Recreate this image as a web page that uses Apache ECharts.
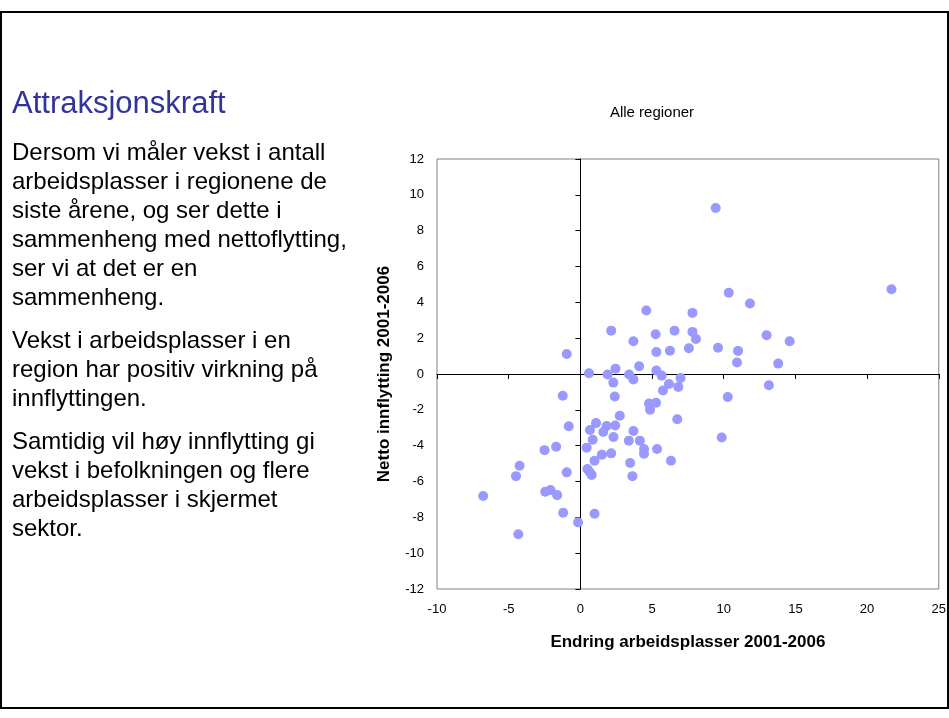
<!DOCTYPE html>
<html><head><meta charset="utf-8">
<script src="https://cdn.jsdelivr.net/npm/echarts@6/dist/echarts.min.js"></script>
<style>html,body{margin:0;padding:0;background:#fff}#c{width:949px;height:718px}</style>
</head><body><div id="c"></div>
<script>
const slideTitle = 'Attraksjonskraft';
const chartTitle = 'Alle regioner';
const xAxisTitle = 'Endring arbeidsplasser 2001-2006';
const yAxisTitle = 'Netto innflytting 2001-2006';
const paragraph1 = ['Dersom vi måler vekst i antall', 'arbeidsplasser i regionene de', 'siste årene, og ser dette i', 'sammenheng med nettoflytting,', 'ser vi at det er en', 'sammenheng.'];
const paragraph2 = ['Vekst i arbeidsplasser i en', 'region har positiv virkning på', 'innflyttingen.'];
const paragraph3 = ['Samtidig vil høy innflytting gi', 'vekst i befolkningen og flere', 'arbeidsplasser i skjermet', 'sektor.'];

// Endring arbeidsplasser 2001-2006 (x) and Netto innflytting 2001-2006 (y)
const jobGrowth = [-0.95, 0.6, 1.9, 2.15, 2.45, 2.3, 3.7, 3.4, 3.7, 4.1, 4.6, 5.25, 5.3, 5.3, 9.44, 21.7, 10.35, 11.83, 7.82, 6.57,
  7.82, 8.06, 12.99, 14.6, 6.25, 7.57, 9.6, 11.0, 10.93, 13.8, 5.67, 6.99, 6.18, 6.83, 5.76, 13.15, 10.28, 4.79, 5.28, 4.86,
  6.76, 9.86, 4.15, 4.44, 4.44, 5.35, 6.32, -1.23, 2.4, -0.81, 1.09, 0.67, 1.83, 1.6, 2.43, 2.75, 0.86, 2.31, 3.7, 3.38,
  -2.5, -1.69, 0.44, 1.5, 2.15, 0.99, 3.47, -4.24, -4.49, -0.95, 0.49, 0.65, 0.79, 3.63, -6.78, -2.45, -2.08, -1.62, -1.2, 0.99,
  -0.16, -4.33];
const netMigration = [1.12, 0.04, -0.03, 2.42, 0.3, -0.48, 1.83, -0.03, -0.3, 0.43, 3.54, 2.22, 1.23, 0.2, 9.27, 4.73, 4.53, 3.93, 3.41, 2.42,
  2.35, 1.96, 2.16, 1.83, 1.3, 1.44, 1.47, 1.29, 0.64, 0.58, -0.09, -0.22, -0.56, -0.72, -0.92, -0.63, -1.28, -1.65, -1.6, -1.99,
  -2.53, -3.54, -3.72, -4.19, -4.45, -4.19, -4.84, -1.21, -1.26, -2.92, -2.74, -3.13, -2.9, -3.24, -2.87, -2.33, -3.67, -3.52, -3.18, -3.72,
  -4.25, -4.06, -4.11, -4.5, -4.43, -4.84, -4.97, -5.12, -5.7, -5.49, -5.3, -5.47, -5.64, -5.7, -6.81, -6.57, -6.48, -6.76, -7.74, -7.8,
  -8.28, -8.94];

const FONT = '"Liberation Sans", Arial, Helvetica, sans-serif';
const chart = echarts.init(document.getElementById('c'), null, {renderer: 'canvas'});

const points = jobGrowth.map((x, i) => [x, netMigration[i]]);

const graphics = [];
graphics.push({type: 'rect', shape: {x: 1, y: 12, width: 947, height: 696}, style: {fill: 'none', stroke: '#000', lineWidth: 2}, silent: true});
graphics.push({type: 'text', left: 12, top: 89, style: {text: slideTitle, fill: '#333399', font: '31px ' + FONT}});
graphics.push({type: 'text', x: 652, y: 113, style: {text: chartTitle, fill: '#000', font: '15px ' + FONT, align: 'center', verticalAlign: 'middle'}});
const paraStarts = [153, 341, 442];
[paragraph1, paragraph2, paragraph3].forEach((para, p) => {
  para.forEach((line, i) => {
    graphics.push({type: 'text', x: 12, y: paraStarts[p] + i * 29, style: {text: line, fill: '#000', font: '24px ' + FONT, align: 'left', verticalAlign: 'middle'}});
  });
});

chart.setOption({
  animation: false,
  backgroundColor: '#fff',
  textStyle: {fontFamily: FONT},
  grid: {left: 437, top: 159, right: 9, bottom: 129, show: true, borderColor: '#808080', borderWidth: 1, containLabel: false},
  xAxis: [
    {type: 'value', min: -10, max: 25, interval: 5, position: 'bottom',
      axisLine: {show: false, onZero: false}, axisTick: {show: false}, splitLine: {show: false},
      axisLabel: {color: '#000', fontSize: 13, margin: 14, fontFamily: FONT},
      name: xAxisTitle, nameLocation: 'middle', nameGap: 45,
      nameTextStyle: {color: '#000', fontWeight: 'bold', fontSize: 17, fontFamily: FONT}},
    {type: 'value', min: -10, max: 25, interval: 5, position: 'bottom',
      axisLine: {show: true, onZero: true, lineStyle: {color: '#000', width: 1}},
      axisTick: {show: true, inside: false, length: 5, lineStyle: {color: '#000'}},
      axisLabel: {show: false}, splitLine: {show: false}}
  ],
  yAxis: [
    {type: 'value', min: -12, max: 12, interval: 2, position: 'left',
      axisLine: {show: false, onZero: false}, axisTick: {show: false}, splitLine: {show: false},
      axisLabel: {color: '#000', fontSize: 13, margin: 13, fontFamily: FONT},
      name: yAxisTitle, nameLocation: 'middle', nameGap: 44, nameRotate: 90,
      nameTextStyle: {color: '#000', fontWeight: 'bold', fontSize: 17, fontFamily: FONT}},
    {type: 'value', min: -12, max: 12, interval: 2, position: 'left',
      axisLine: {show: true, onZero: true, lineStyle: {color: '#000', width: 1}},
      axisTick: {show: true, inside: false, length: 5, lineStyle: {color: '#000'}},
      axisLabel: {show: false}, splitLine: {show: false}}
  ],
  series: [{
    type: 'scatter', xAxisIndex: 0, yAxisIndex: 0, data: points,
    symbol: 'circle', symbolSize: 10,
    itemStyle: {color: '#9999FF', opacity: 1}
  }],
  graphic: graphics
});
</script>
</body></html>
